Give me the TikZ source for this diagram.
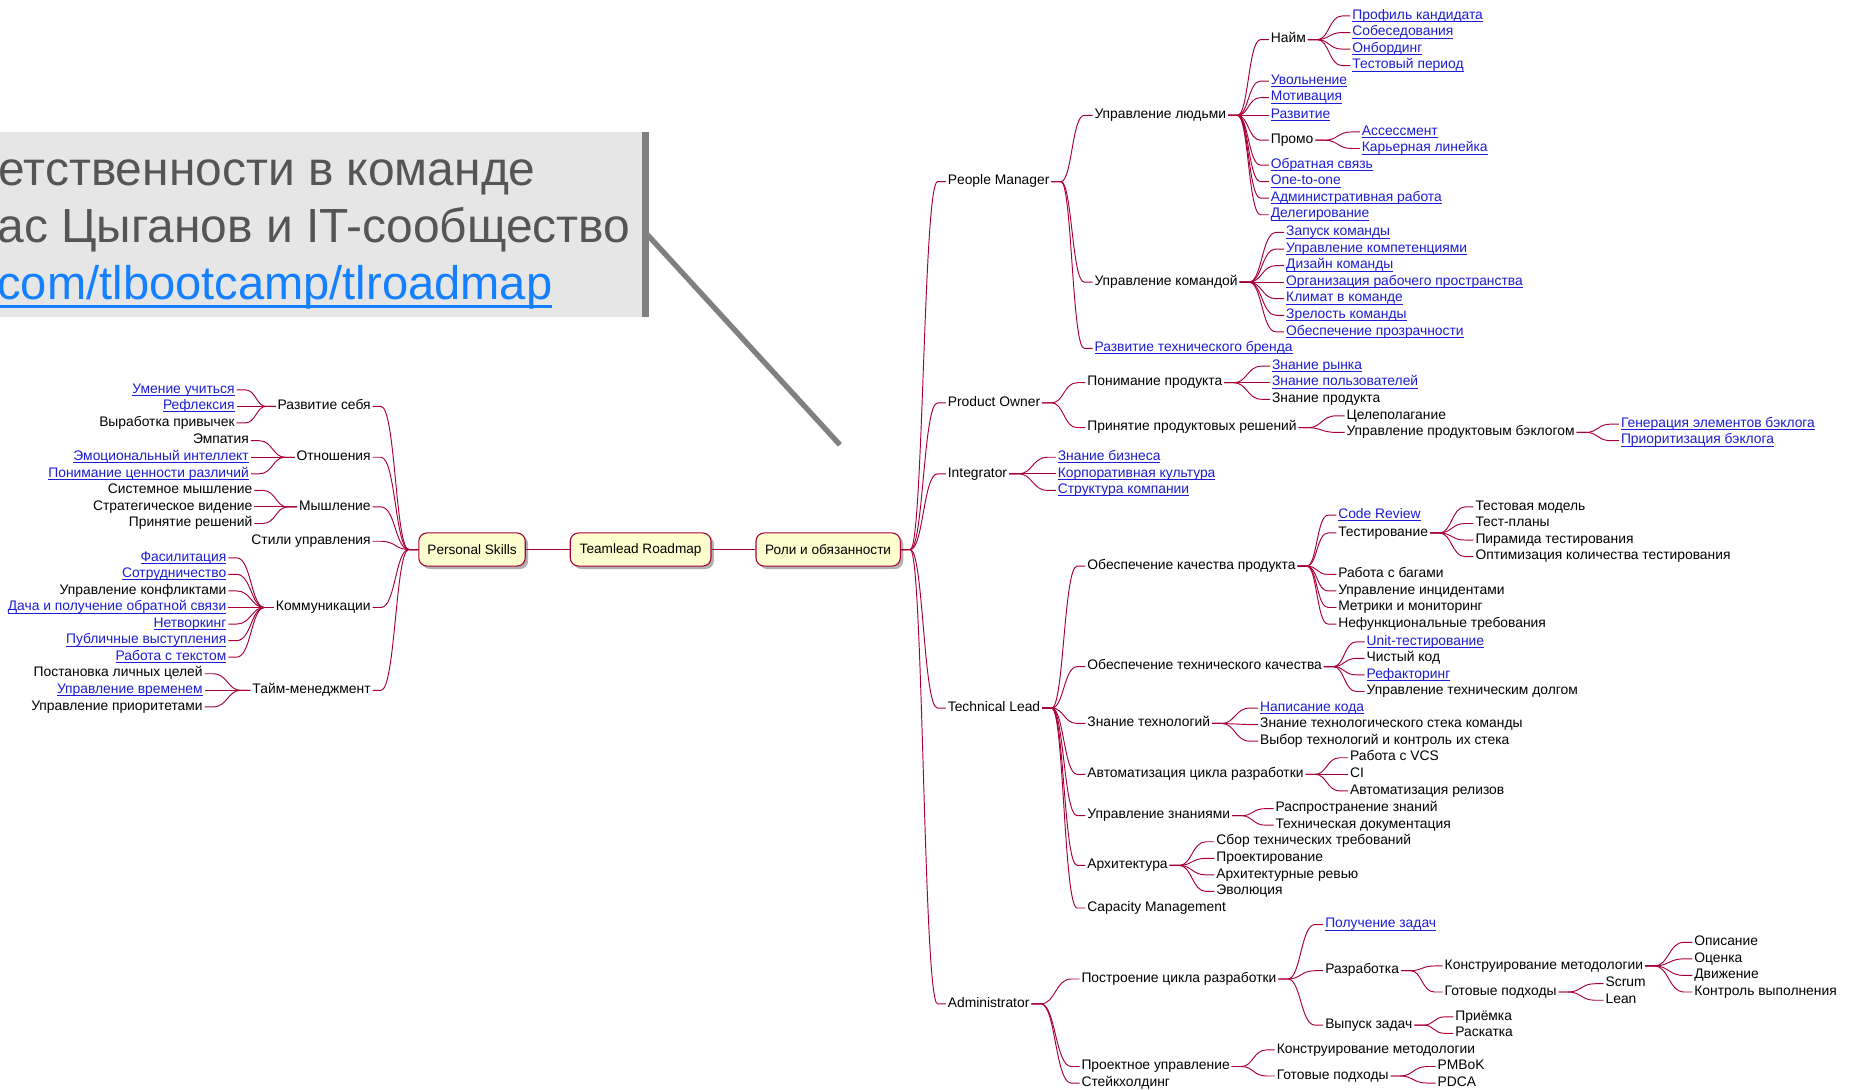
\documentclass[tikz,border=0pt]{standalone}
\usepackage{fontspec}
\setmainfont{Liberation Sans}
\usetikzlibrary{calc,shadows}

\definecolor{edgecol}{RGB}{168,0,54}
\definecolor{hubfill}{RGB}{254,254,206}
\definecolor{linkblue}{RGB}{28,28,214}
\definecolor{titlegray}{RGB}{85,85,85}
\definecolor{titlelink}{RGB}{20,128,255}
\definecolor{panelgray}{RGB}{230,230,230}
\definecolor{bargray}{RGB}{128,128,128}

% underlined link text
\newsavebox\lnkbox
\newcommand\lnk[1]{\sbox\lnkbox{\color{linkblue}#1}{\color{linkblue}\rlap{\rule[-2.3pt]{\wd\lnkbox}{0.7pt}}}\usebox\lnkbox}
\newcommand\bigurl[1]{\sbox\lnkbox{\color{titlelink}#1}{\color{titlelink}\rlap{\rule[-7pt]{\wd\lnkbox}{2.4pt}}}\usebox\lnkbox}

\tikzset{
  edge/.style={draw=edgecol, line width=0.8pt},
  lbl/.style={inner sep=1.5pt, text height=8pt, text depth=2.6pt, font=\fontsize{11.7}{13}\selectfont},
  rt/.style={lbl, anchor=west},
  lt/.style={lbl, anchor=east},
  hub/.style={draw=edgecol, line width=0.9pt, fill=hubfill, rounded corners=7pt,
    minimum height=28pt, inner xsep=0pt, font=\fontsize{11.5}{13}\selectfont,
    drop shadow={shadow xshift=2.5pt, shadow yshift=-2.5pt, fill=black, opacity=0.3}},
  tor/.style={to path={let \p1=(\tikztostart), \p2=(\tikztotarget) in
     -- (\x1+8pt,\y1) .. controls ({(\x1+\x2)/2},\y1) and ({(\x1+\x2)/2},\y2) .. (\x2-7pt,\y2) -- (\x2,\y2)}},
  tol/.style={to path={let \p1=(\tikztostart), \p2=(\tikztotarget) in
     -- (\x1-8pt,\y1) .. controls ({(\x1+\x2)/2},\y1) and ({(\x1+\x2)/2},\y2) .. (\x2+7pt,\y2) -- (\x2,\y2)}},
}

\begin{document}
\begin{tikzpicture}[x=1pt, y=-1pt]
\useasboundingbox (0,0) rectangle (1568,921);

% title panel
\begin{scope}
\clip (0,0) rectangle (1568,921);
\fill[panelgray] (-5,111.5) rectangle (545,268);
\draw[bargray, line width=4.5pt] (546,197) -- (710,376);
\draw[bargray, line width=6pt] (545.5,111.5) -- (545.5,268);
\node[anchor=base east, inner sep=0pt, text=titlegray, font=\fontsize{40.5}{46}\selectfont] (t1) at (453,156.5) {етственности в команде};
\node[anchor=base east, inner sep=0pt, text=titlegray, font=\fontsize{40.5}{46}\selectfont] (t2) at (533,205) {ас Цыганов и IT-сообщество};
\node[anchor=base east, inner sep=0pt, font=\fontsize{39.8}{46}\selectfont] (t3) at (467,253) {\bigurl{com/tlbootcamp/tlroadmap}};
\end{scope}

\begin{scope}[yshift=-1.5pt]
% central boxes
\node[hub, minimum width=90pt] (ps) at (399,463) {Personal Skills};
\node[hub, minimum width=119pt] (tr) at (541.5,463) {Teamlead Roadmap};
\node[hub, minimum width=122pt] (ro) at (700,463) {Роли и обязанности};
\draw[edge] (tr.west) -- (ps.east);
\draw[edge] (tr.east) -- (ro.west);

% ---------- Personal Skills ----------
\node[lt] (ls1) at (315,342) {Развитие себя};
\node[lt] (ls2) at (315,385) {Отношения};
\node[lt] (ls3) at (315,427) {Мышление};
\node[lt] (ls4) at (315,456) {Стили управления};
\node[lt] (ls5) at (315,512) {Коммуникации};
\node[lt] (ls6) at (315,582) {Тайм-менеджмент};
\foreach \c in {ls1,ls2,ls3,ls4,ls5,ls6} \draw[edge] (ps.west) to[tol] (\c.east);

\node[lt] (a1) at (200,328) {\lnk{Умение учиться}};
\node[lt] (a2) at (200,342) {\lnk{Рефлексия}};
\node[lt] (a3) at (200,356) {Выработка привычек};
\foreach \c in {a1,a2,a3} \draw[edge] (ls1.west) to[tol] (\c.east);

\node[lt] (b1) at (212,371) {Эмпатия};
\node[lt] (b2) at (212,385) {\lnk{Эмоциональный интеллект}};
\node[lt] (b3) at (212,399) {\lnk{Понимание ценности различий}};
\foreach \c in {b1,b2,b3} \draw[edge] (ls2.west) to[tol] (\c.east);

\node[lt] (c1) at (215,413) {Системное мышление};
\node[lt] (c2) at (215,427) {Стратегическое видение};
\node[lt] (c3) at (215,441) {Принятие решений};
\foreach \c in {c1,c2,c3} \draw[edge] (ls3.west) to[tol] (\c.east);

\node[lt] (d1) at (193,470) {\lnk{Фасилитация}};
\node[lt] (d2) at (193,484) {\lnk{Сотрудничество}};
\node[lt] (d3) at (193,498) {Управление конфликтами};
\node[lt] (d4) at (193,512) {\lnk{Дача и получение обратной связи}};
\node[lt] (d5) at (193,526) {\lnk{Нетворкинг}};
\node[lt] (d6) at (193,540) {\lnk{Публичные выступления}};
\node[lt] (d7) at (193,554) {\lnk{Работа с текстом}};
\foreach \c in {d1,d2,d3,d4,d5,d6,d7} \draw[edge] (ls5.west) to[tol] (\c.east);

\node[lt] (e1) at (173,568) {Постановка личных целей};
\node[lt] (e2) at (173,582) {\lnk{Управление временем}};
\node[lt] (e3) at (173,596) {Управление приоритетами};
\foreach \c in {e1,e2,e3} \draw[edge] (ls6.west) to[tol] (\c.east);

% ---------- Roles ----------
\node[rt] (pm) at (799.5,152) {People Manager};
\node[rt] (po) at (799.5,339) {Product Owner};
\node[rt] (ig) at (799.5,399) {Integrator};
\node[rt] (tl) at (799.5,597) {Technical Lead};
\node[rt] (ad) at (799.5,847) {Administrator};
\foreach \c in {pm,po,ig,tl,ad} \draw[edge] (ro.east) to[tor] (\c.west);

% People Manager
\node[rt] (um) at (923.5,96) {Управление людьми};
\node[rt] (uk) at (923.5,237) {Управление командой};
\node[rt] (rb) at (923.5,293) {\lnk{Развитие технического бренда}};
\foreach \c in {um,uk,rb} \draw[edge] (pm.east) to[tor] (\c.west);

\node[rt] (nm) at (1072.5,32) {Найм};
\node[rt] (u2) at (1072.5,67) {\lnk{Увольнение}};
\node[rt] (u3) at (1072.5,81) {\lnk{Мотивация}};
\node[rt] (u4) at (1072.5,96) {\lnk{Развитие}};
\node[rt] (pr) at (1072.5,117) {Промо};
\node[rt] (u6) at (1072.5,138) {\lnk{Обратная связь}};
\node[rt] (u7) at (1072.5,152) {\lnk{One-to-one}};
\node[rt] (u8) at (1072.5,166) {\lnk{Административная работа}};
\node[rt] (u9) at (1072.5,180) {\lnk{Делегирование}};
\foreach \c in {nm,u2,u3,u4,pr,u6,u7,u8,u9} \draw[edge] (um.east) to[tor] (\c.west);

\node[rt] (n1) at (1141.5,12) {\lnk{Профиль кандидата}};
\node[rt] (n2) at (1141.5,26) {\lnk{Собеседования}};
\node[rt] (n3) at (1141.5,40) {\lnk{Онбординг}};
\node[rt] (n4) at (1141.5,54) {\lnk{Тестовый период}};
\foreach \c in {n1,n2,n3,n4} \draw[edge] (nm.east) to[tor] (\c.west);

\node[rt] (p1) at (1149.5,110) {\lnk{Ассессмент}};
\node[rt] (p2) at (1149.5,124) {\lnk{Карьерная линейка}};
\foreach \c in {p1,p2} \draw[edge] (pr.east) to[tor] (\c.west);

\node[rt] (k1) at (1085.5,195) {\lnk{Запуск команды}};
\node[rt] (k2) at (1085.5,209) {\lnk{Управление компетенциями}};
\node[rt] (k3) at (1085.5,223) {\lnk{Дизайн команды}};
\node[rt] (k4) at (1085.5,237) {\lnk{Организация рабочего пространства}};
\node[rt] (k5) at (1085.5,251) {\lnk{Климат в команде}};
\node[rt] (k6) at (1085.5,265) {\lnk{Зрелость команды}};
\node[rt] (k7) at (1085.5,279) {\lnk{Обеспечение прозрачности}};
\foreach \c in {k1,k2,k3,k4,k5,k6,k7} \draw[edge] (uk.east) to[tor] (\c.west);

% Product Owner
\node[rt] (pp) at (917.5,322) {Понимание продукта};
\node[rt] (pd) at (917.5,360) {Принятие продуктовых решений};
\foreach \c in {pp,pd} \draw[edge] (po.east) to[tor] (\c.west);

\node[rt] (q1) at (1073.5,308) {\lnk{Знание рынка}};
\node[rt] (q2) at (1073.5,322) {\lnk{Знание пользователей}};
\node[rt] (q3) at (1073.5,336) {Знание продукта};
\foreach \c in {q1,q2,q3} \draw[edge] (pp.east) to[tor] (\c.west);

\node[rt] (r1) at (1136.5,350) {Целеполагание};
\node[rt] (r2) at (1136.5,364) {Управление продуктовым бэклогом};
\foreach \c in {r1,r2} \draw[edge] (pd.east) to[tor] (\c.west);

\node[rt] (s1) at (1368.5,357) {\lnk{Генерация элементов бэклога}};
\node[rt] (s2) at (1368.5,371) {\lnk{Приоритизация бэклога}};
\foreach \c in {s1,s2} \draw[edge] (r2.east) to[tor] (\c.west);

% Integrator
\node[rt] (i1) at (892.5,385) {\lnk{Знание бизнеса}};
\node[rt] (i2) at (892.5,399) {\lnk{Корпоративная культура}};
\node[rt] (i3) at (892.5,413) {\lnk{Структура компании}};
\foreach \c in {i1,i2,i3} \draw[edge] (ig.east) to[tor] (\c.west);

% Technical Lead
\node[rt] (t1q) at (917.5,477) {Обеспечение качества продукта};
\node[rt] (t2q) at (917.5,562) {Обеспечение технического качества};
\node[rt] (t3q) at (917.5,610) {Знание технологий};
\node[rt] (t4q) at (917.5,653) {Автоматизация цикла разработки};
\node[rt] (t5q) at (917.5,688) {Управление знаниями};
\node[rt] (t6q) at (917.5,730) {Архитектура};
\node[rt] (t7q) at (917.5,766) {Capacity Management};
\foreach \c in {t1q,t2q,t3q,t4q,t5q,t6q,t7q} \draw[edge] (tl.east) to[tor] (\c.west);

\node[rt] (v1) at (1129.5,434) {\lnk{Code Review}};
\node[rt] (ts) at (1129.5,449) {Тестирование};
\node[rt] (v3) at (1129.5,484) {Работа с багами};
\node[rt] (v4) at (1129.5,498) {Управление инцидентами};
\node[rt] (v5) at (1129.5,512) {Метрики и мониторинг};
\node[rt] (v6) at (1129.5,526) {Нефункциональные требования};
\foreach \c in {v1,ts,v3,v4,v5,v6} \draw[edge] (t1q.east) to[tor] (\c.west);

\node[rt] (w1) at (1245.5,427) {Тестовая модель};
\node[rt] (w2) at (1245.5,441) {Тест-планы};
\node[rt] (w3) at (1245.5,455) {Пирамида тестирования};
\node[rt] (w4) at (1245.5,469) {Оптимизация количества тестирования};
\foreach \c in {w1,w2,w3,w4} \draw[edge] (ts.east) to[tor] (\c.west);

\node[rt] (x1) at (1153.5,541) {\lnk{Unit-тестирование}};
\node[rt] (x2) at (1153.5,555) {Чистый код};
\node[rt] (x3) at (1153.5,569) {\lnk{Рефакторинг}};
\node[rt] (x4) at (1153.5,583) {Управление техническим долгом};
\foreach \c in {x1,x2,x3,x4} \draw[edge] (t2q.east) to[tor] (\c.west);

\node[rt] (y1) at (1063.5,597) {\lnk{Написание кода}};
\node[rt] (y2) at (1063.5,611) {Знание технологического стека команды};
\node[rt] (y3) at (1063.5,625) {Выбор технологий и контроль их стека};
\foreach \c in {y1,y2,y3} \draw[edge] (t3q.east) to[tor] (\c.west);

\node[rt] (z1) at (1139.5,639) {Работа с VCS};
\node[rt] (z2) at (1139.5,653) {CI};
\node[rt] (z3) at (1139.5,667) {Автоматизация релизов};
\foreach \c in {z1,z2,z3} \draw[edge] (t4q.east) to[tor] (\c.west);

\node[rt] (g1) at (1076.5,682) {Распространение знаний};
\node[rt] (g2) at (1076.5,696) {Техническая документация};
\foreach \c in {g1,g2} \draw[edge] (t5q.east) to[tor] (\c.west);

\node[rt] (h1) at (1026.5,710) {Сбор технических требований};
\node[rt] (h2) at (1026.5,724) {Проектирование};
\node[rt] (h3) at (1026.5,738) {Архитектурные ревью};
\node[rt] (h4) at (1026.5,752) {Эволюция};
\foreach \c in {h1,h2,h3,h4} \draw[edge] (t6q.east) to[tor] (\c.west);

% Administrator
\node[rt] (pc) at (912.5,826) {Построение цикла разработки};
\node[rt] (pu) at (912.5,900) {Проектное управление};
\node[rt] (sh) at (912.5,914) {Стейкхолдинг};
\foreach \c in {pc,pu,sh} \draw[edge] (ad.east) to[tor] (\c.west);

\node[rt] (m1) at (1118.5,780) {\lnk{Получение задач}};
\node[rt] (rz) at (1118.5,819) {Разработка};
\node[rt] (vz) at (1118.5,865) {Выпуск задач};
\foreach \c in {m1,rz,vz} \draw[edge] (pc.east) to[tor] (\c.west);

\node[rt] (km) at (1219.5,815) {Конструирование методологии};
\node[rt] (gp) at (1219.5,837) {Готовые подходы};
\foreach \c in {km,gp} \draw[edge] (rz.east) to[tor] (\c.west);

\node[rt] (o1) at (1430.5,795) {Описание};
\node[rt] (o2) at (1430.5,809) {Оценка};
\node[rt] (o3) at (1430.5,823) {Движение};
\node[rt] (o4) at (1430.5,837) {Контроль выполнения};
\foreach \c in {o1,o2,o3,o4} \draw[edge] (km.east) to[tor] (\c.west);

\node[rt] (sc) at (1355.5,830) {Scrum};
\node[rt] (le) at (1355.5,844) {Lean};
\foreach \c in {sc,le} \draw[edge] (gp.east) to[tor] (\c.west);

\node[rt] (f1) at (1228.5,858) {Приёмка};
\node[rt] (f2) at (1228.5,872) {Раскатка};
\foreach \c in {f1,f2} \draw[edge] (vz.east) to[tor] (\c.west);

\node[rt] (j1) at (1077.5,886) {Конструирование методологии};
\node[rt] (gq) at (1077.5,908) {Готовые подходы};
\foreach \c in {j1,gq} \draw[edge] (pu.east) to[tor] (\c.west);

\node[rt] (l1) at (1213.5,900) {PMBoK};
\node[rt] (l2) at (1213.5,914) {PDCA};
\foreach \c in {l1,l2} \draw[edge] (gq.east) to[tor] (\c.west);
\end{scope}
\end{tikzpicture}
\end{document}
